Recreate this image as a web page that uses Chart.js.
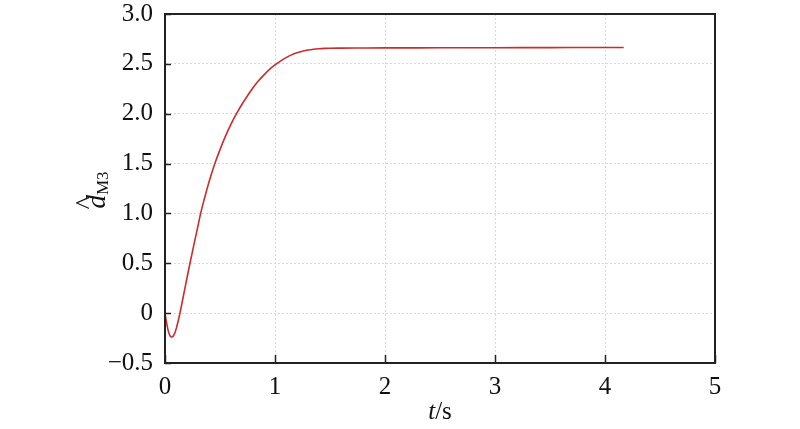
<!DOCTYPE html>
<html>
<head>
<meta charset="utf-8">
<script src="https://cdn.jsdelivr.net/npm/chart.js@4/dist/chart.umd.min.js"></script>
<style>
  html, body { margin: 0; padding: 0; background: #fff; }
  #wrap { width: 800px; height: 429px; }
</style>
</head>
<body>
<div id="wrap"><canvas id="estChart" width="800" height="429"></canvas></div>
<script>
// Datos
const timeValues = [0, 0.015, 0.03, 0.045, 0.06, 0.075, 0.09, 0.106, 0.12, 0.136, 0.16, 0.18, 0.2, 0.227, 0.25, 0.28, 0.3, 0.324, 0.36, 0.4, 0.45, 0.5, 0.55, 0.6, 0.65, 0.7, 0.75, 0.8, 0.85, 0.9, 0.95, 1.0, 1.05, 1.1, 1.15, 1.2, 1.25, 1.3, 1.35, 1.4, 1.45, 1.5, 1.6, 1.8, 2.0, 2.5, 3.0, 3.5, 4.0, 4.17];
const estimateValues = [0, -0.1, -0.18, -0.225, -0.24, -0.229, -0.196, -0.14, -0.077, 0, 0.132, 0.244, 0.355, 0.5, 0.62, 0.775, 0.875, 1.0, 1.155, 1.315, 1.49, 1.64, 1.775, 1.895, 2.0, 2.095, 2.18, 2.26, 2.33, 2.39, 2.445, 2.49, 2.528, 2.562, 2.59, 2.611, 2.627, 2.639, 2.647, 2.652, 2.655, 2.657, 2.658, 2.659, 2.66, 2.661, 2.662, 2.663, 2.664, 2.664];
const xTicks = [0, 1, 2, 3, 4, 5];
const yTicks = [-0.5, 0, 0.5, 1.0, 1.5, 2.0, 2.5, 3.0];

const SERIF = '"Liberation Serif", "DejaVu Serif", serif';
const AXIS_COLOR = '#222';

const points = timeValues.map((t, i) => ({ x: t, y: estimateValues[i] }));

// Marco superior/derecho, marcas hacia dentro y títulos de ejes
const framePlugin = {
  id: 'frame',
  afterDraw(chart) {
    const c = chart.ctx;
    const a = chart.chartArea;
    const xs = chart.scales.x;
    const ys = chart.scales.y;
    c.save();
    c.strokeStyle = AXIS_COLOR;
    c.lineWidth = 2;
    c.strokeRect(a.left, a.top, a.right - a.left, a.bottom - a.top);

    c.lineWidth = 1.5;
    c.beginPath();
    yTicks.forEach(v => {
      const y = Math.round(ys.getPixelForValue(v)) + 0.5;
      c.moveTo(a.left, y);
      c.lineTo(a.left + 6, y);
    });
    xTicks.forEach(v => {
      const x = Math.round(xs.getPixelForValue(v)) + 0.5;
      c.moveTo(x, a.bottom);
      c.lineTo(x, a.bottom - 8);
    });
    c.stroke();

    // título eje x: t/s
    c.fillStyle = '#111';
    c.textBaseline = 'alphabetic';
    c.textAlign = 'left';
    c.font = 'italic 25px ' + SERIF;
    const tW = c.measureText('t').width;
    c.font = '25px ' + SERIF;
    const sW = c.measureText('/s').width;
    const x0 = 440 - (tW + sW) / 2;
    c.font = 'italic 25px ' + SERIF;
    c.fillText('t', x0, 419);
    c.font = '25px ' + SERIF;
    c.fillText('/s', x0 + tW, 419);

    // título eje y: d̂ con subíndice M3
    c.translate(105, 190);
    c.rotate(-Math.PI / 2);
    c.font = 'italic 27px ' + SERIF;
    const dW = c.measureText('d').width;
    c.font = '17px ' + SERIF;
    const mW = c.measureText('M3').width;
    const sx = -(dW + mW) / 2;
    c.font = 'italic 27px ' + SERIF;
    c.fillText('d', sx, 0);
    c.font = '28px ' + SERIF;
    const hW = c.measureText('^').width;
    c.fillText('^', sx + dW / 2 - hW / 2 - 1, -11);
    c.font = '17px ' + SERIF;
    c.fillText('M3', sx + dW, 3);
    c.restore();
  }
};

function yLabel(v) {
  if (v === 0) return '0';
  if (v < 0) return '\u2212' + Math.abs(v).toFixed(1);
  return v.toFixed(1);
}

new Chart(document.getElementById('estChart').getContext('2d'), {
  type: 'scatter',
  data: {
    datasets: [{
      data: points,
      showLine: true,
      borderColor: '#cc2b2b',
      borderWidth: 1.6,
      pointRadius: 0,
      cubicInterpolationMode: 'monotone',
      fill: false
    }]
  },
  options: {
    responsive: false,
    animation: false,
    layout: { autoPadding: false, padding: { left: 0, right: 85, top: 14, bottom: 0 } },
    plugins: { legend: { display: false }, tooltip: { enabled: false } },
    scales: {
      x: {
        type: 'linear',
        min: 0,
        max: 5,
        afterBuildTicks: s => { s.ticks = xTicks.map(v => ({ value: v })); },
        afterFit: s => { s.height = 66; },
        ticks: {
          font: { family: SERIF, size: 25 },
          color: '#111',
          padding: 9,
          maxRotation: 0,
          callback: v => String(v)
        },
        grid: { color: '#d9d9d9', lineWidth: 1, drawTicks: false },
        border: { display: true, color: AXIS_COLOR, width: 2, dash: [2, 2] }
      },
      y: {
        type: 'linear',
        min: -0.5,
        max: 3.0,
        afterBuildTicks: s => { s.ticks = yTicks.map(v => ({ value: v })); },
        afterFit: s => { s.width = 165; s.paddingTop = 0; s.paddingBottom = 0; },
        ticks: {
          font: { family: SERIF, size: 25, lineHeight: 0.5 },
          color: '#111',
          padding: 12,
          callback: v => yLabel(v)
        },
        grid: { color: '#d9d9d9', lineWidth: 1, drawTicks: false },
        border: { display: true, color: AXIS_COLOR, width: 2, dash: [2, 2] }
      }
    }
  },
  plugins: [framePlugin]
});
</script>
</body>
</html>
